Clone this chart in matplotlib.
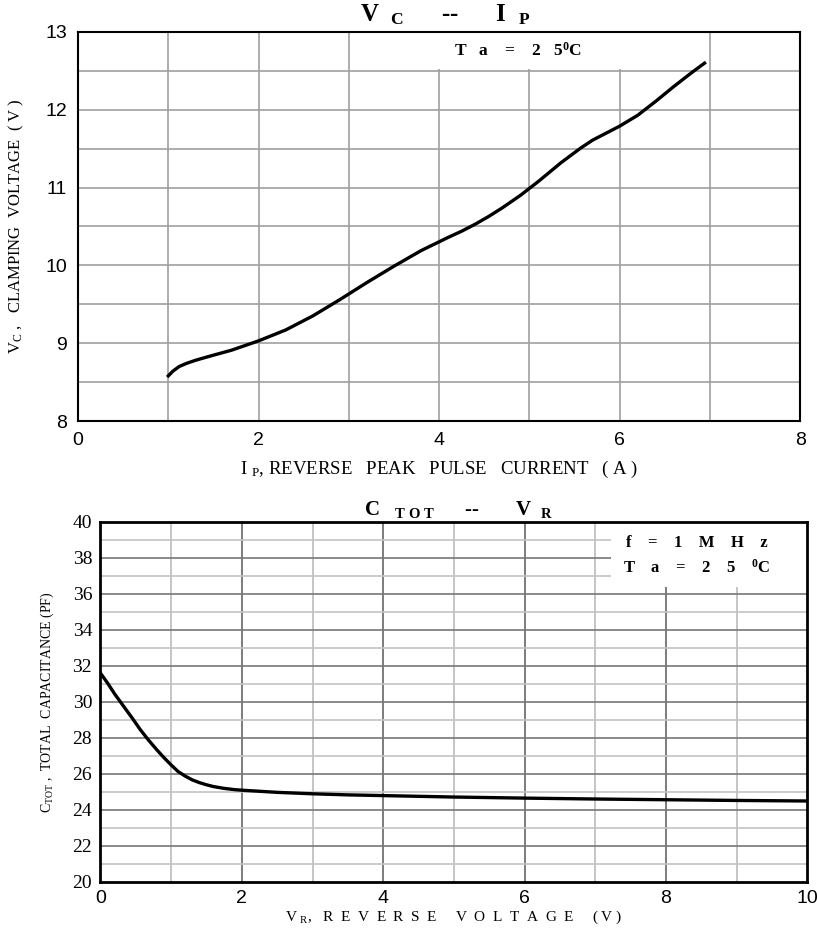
import numpy as np
import matplotlib.pyplot as plt

plt.rcParams['mathtext.fontset'] = 'custom'
plt.rcParams['mathtext.rm'] = 'Liberation Serif'
plt.rcParams['mathtext.bf'] = 'Liberation Serif:bold'
plt.rcParams['mathtext.it'] = 'Liberation Serif:italic'

# Vc vs Ip (top chart)
ip = [1.00, 1.05, 1.12, 1.20, 1.30, 1.45, 1.70, 2.00, 2.30, 2.60, 2.90, 3.20, 3.50, 3.80,
      4.10, 4.25, 4.40, 4.55, 4.70, 4.90, 5.10, 5.35, 5.57, 5.70, 5.85, 6.00, 6.20, 6.40,
      6.60, 6.80, 6.94]
vc = [8.58, 8.64, 8.70, 8.74, 8.78, 8.83, 8.91, 9.03, 9.17, 9.35, 9.56, 9.78, 9.99, 10.19,
      10.36, 10.44, 10.53, 10.63, 10.74, 10.90, 11.08, 11.32, 11.51, 11.61, 11.70, 11.79, 11.93, 12.11,
      12.30, 12.48, 12.60]

# Ctot vs Vr (bottom chart)
vr = [0.00, 0.10, 0.20, 0.32, 0.45, 0.56, 0.68, 0.80, 0.90, 1.00, 1.10, 1.20, 1.30, 1.40,
      1.50, 1.60, 1.75, 1.90, 2.00, 2.50, 3.00, 3.50, 4.00, 5.00, 6.00, 7.00, 8.00, 9.00, 10.00]
ctot = [31.60, 31.05, 30.45, 29.80, 29.10, 28.48, 27.88, 27.33, 26.90, 26.50, 26.13, 25.88, 25.67, 25.52,
        25.40, 25.30, 25.20, 25.13, 25.10, 24.98, 24.90, 24.84, 24.80, 24.72, 24.66, 24.61, 24.57, 24.53, 24.50]

top_xticks = [0, 2, 4, 6, 8]
top_yticks = [8, 9, 10, 11, 12, 13]
bot_xticks = [0, 2, 4, 6, 8, 10]
bot_yticks = list(range(20, 41, 2))

serif = 'Liberation Serif'
sans = 'Liberation Sans'

fig = plt.figure(figsize=(8.17, 9.41), dpi=100)

# ---------------- top chart ----------------
ax1 = fig.add_axes([0.0955, 0.5526, 0.884, 0.4134])
ax1.set_xlim(0, 8)
ax1.set_ylim(8, 13)
for x in range(1, 8):
    ax1.axvline(x, color='#a0a0a0', lw=1.2, zorder=0.5)
for y in np.arange(8.5, 13, 0.5):
    ax1.axhline(y, color='#a0a0a0', lw=1.2, zorder=0.5)
# white box behind the note
ax1.axhspan(12.53, 13, xmin=0.485, xmax=0.77, color='white', lw=0, zorder=1)
ax1.plot(ip, vc, color='black', lw=2.4, zorder=3, solid_joinstyle='round')
ax1.set_xticks(top_xticks)
ax1.set_yticks(top_yticks)
ax1.set_xticklabels([str(t) for t in top_xticks], fontfamily=sans, fontsize=14)
ax1.set_yticklabels([str(t) for t in top_yticks], fontfamily=sans, fontsize=14)
ax1.tick_params(length=0, pad=8)
for s in ax1.spines.values():
    s.set_linewidth(1.5)
    s.set_color('black')
ax1.text(4.87, 12.76, r'T   a    =    2   5$^{\mathbf{0}}$C', ha='center', va='center',
         fontfamily=serif, fontweight='bold', fontsize=12.5, zorder=4)
ax1.set_xlabel(r'I $_{\rm P}$, REVERSE   PEAK   PULSE   CURRENT   ( A )',
               fontfamily=serif, fontsize=13.5, labelpad=7)
ax1.set_ylabel(r'V$_{\rm C}$ ,   CLAMPING  VOLTAGE  ( V )', fontfamily=serif, fontsize=12, labelpad=14)
fig.text(0.545, 0.984, r'V  $_{\mathbf{C}}$      --      I  $_{\mathbf{P}}$', ha='center', va='center',
         fontfamily=serif, fontweight='bold', fontsize=18)

# ---------------- bottom chart ----------------
ax2 = fig.add_axes([0.123, 0.0627, 0.865, 0.3826])
ax2.set_xlim(0, 10)
ax2.set_ylim(20, 40)
for x in range(1, 10):
    c = '#666666' if x % 2 == 0 else '#bbbbbb'
    ax2.axvline(x, color=c, lw=1.2, zorder=0.5)
for y in range(21, 40):
    c = '#777777' if y % 2 == 0 else '#c4c4c4'
    ax2.axhline(y, color=c, lw=1.2, zorder=0.5)
# white box behind the notes
ax2.axhspan(36.4, 40, xmin=0.723, xmax=1.0, color='white', lw=0, zorder=1)
ax2.plot(vr, ctot, color='black', lw=2.4, zorder=3, solid_joinstyle='round')
ax2.set_xticks(bot_xticks)
ax2.set_yticks(bot_yticks)
ax2.set_xticklabels([str(t) for t in bot_xticks], fontfamily=sans, fontsize=14)
ax2.set_yticklabels([str(t) for t in bot_yticks], fontfamily=serif, fontsize=14)
ax2.tick_params(length=0, pad=6)
for s in ax2.spines.values():
    s.set_linewidth(2)
    s.set_color('black')
ax2.text(8.44, 38.83, r'f    =    1    M    H    z', ha='center', va='center',
         fontfamily=serif, fontweight='bold', fontsize=12, zorder=4)
ax2.text(8.44, 37.44, r'T    a    =    2    5    $^{\mathbf{0}}$C', ha='center', va='center',
         fontfamily=serif, fontweight='bold', fontsize=12, zorder=4)
ax2.set_xlabel(r'V $_{\rm R}$,   R  E  V  E  R  S  E     V  O  L  T  A  G  E     ( V )',
               fontfamily=serif, fontsize=11, labelpad=1)
ax2.set_ylabel(r'C$_{\rm TOT}$ ,  TOTAL  CAPACITANCE (PF)', fontfamily=serif, fontsize=10, labelpad=12)
fig.text(0.561, 0.459, r'C   $_{\mathbf{T\ O\ T}}$      --       V  $_{\mathbf{R}}$', ha='center', va='center',
         fontfamily=serif, fontweight='bold', fontsize=15)

fig.savefig('out.png', dpi=100)
